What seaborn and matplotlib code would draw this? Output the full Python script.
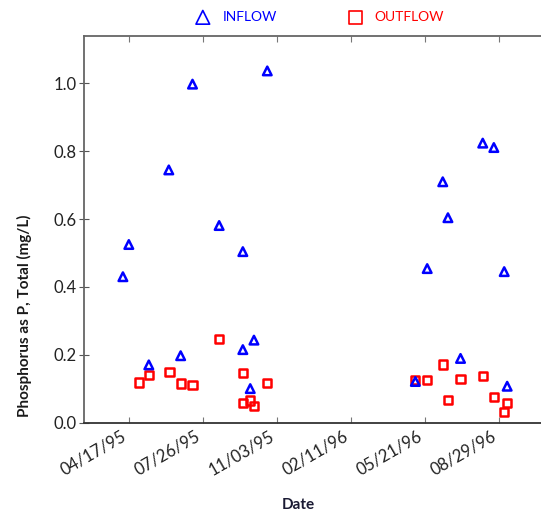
import matplotlib
matplotlib.use("Agg")
import matplotlib.pyplot as plt
import seaborn as sns
import pandas as pd

# ---- data ----
inflow_dates = ["1995-04-09", "1995-04-17", "1995-05-14", "1995-06-10", "1995-06-26",
                "1995-07-12", "1995-08-17", "1995-09-18", "1995-09-18", "1995-09-28",
                "1995-10-03", "1995-10-21",
                "1996-05-08", "1996-05-24", "1996-06-14", "1996-06-21", "1996-07-08",
                "1996-08-07", "1996-08-22", "1996-09-05", "1996-09-09"]
inflow_values = [0.43, 0.525, 0.17, 0.745, 0.197,
                 0.998, 0.581, 0.504, 0.215, 0.100,
                 0.243, 1.037,
                 0.121, 0.454, 0.710, 0.604, 0.189,
                 0.824, 0.811, 0.445, 0.107]

outflow_dates = ["1995-05-01", "1995-05-14", "1995-06-11", "1995-06-26", "1995-07-12",
                 "1995-08-17", "1995-09-18", "1995-09-18", "1995-09-28", "1995-10-03",
                 "1995-10-21",
                 "1996-05-08", "1996-05-24", "1996-06-14", "1996-06-21", "1996-07-08",
                 "1996-08-07", "1996-08-22", "1996-09-05", "1996-09-09"]
outflow_values = [0.118, 0.141, 0.149, 0.115, 0.110,
                  0.246, 0.146, 0.058, 0.065, 0.049,
                  0.116,
                  0.126, 0.126, 0.171, 0.067, 0.129,
                  0.138, 0.074, 0.030, 0.057]

tick_dates = ["1995-04-17", "1995-07-26", "1995-11-03", "1996-02-11", "1996-05-21", "1996-08-29"]
tick_labels = ["04/17/95", "07/26/95", "11/03/95", "02/11/96", "05/21/96", "08/29/96"]
y_ticks = [0.0, 0.2, 0.4, 0.6, 0.8, 1.0]
series_names = ["INFLOW", "OUTFLOW"]

# ---- style ----
sns.set_style("white")
plt.rcParams["font.family"] = ["Lato", "DejaVu Sans"]

BLUE = "#0000ff"
RED = "#ff0000"

fig = plt.figure(figsize=(5.41, 5.14), dpi=100)
ax = fig.add_axes([0.156, 0.178, 0.88, 0.752])

df_in = pd.DataFrame({"date": pd.to_datetime(inflow_dates), "value": inflow_values})
df_out = pd.DataFrame({"date": pd.to_datetime(outflow_dates), "value": outflow_values})

sns.scatterplot(data=df_out, x="date", y="value", marker="s", s=34,
                color=RED, linewidth=1.8, ax=ax, label=series_names[1], zorder=3)
sns.scatterplot(data=df_in, x="date", y="value", marker="^", s=38,
                color=BLUE, linewidth=1.8, ax=ax, label=series_names[0], zorder=4)
for coll, col in zip(ax.collections, [RED, BLUE]):
    coll.set_facecolor("none")
    coll.set_edgecolor(col)

# axes limits
ax.set_xlim(pd.Timestamp("1995-02-16"), pd.Timestamp("1996-11-20"))
ax.set_ylim(0, 1.14)

ax.set_xticks(pd.to_datetime(tick_dates))
ax.set_xticklabels(tick_labels, rotation=30, ha="right", rotation_mode="default")
ax.set_yticks(y_ticks)
ax.set_yticklabels([f"{v:.1f}" for v in y_ticks])

ax.tick_params(axis="x", direction="in", top=True, bottom=True, length=4,
               color="#777777", labelsize=12, labelcolor="#222222", pad=4)
ax.tick_params(axis="y", direction="inout", left=True, length=7,
               color="#555555", labelsize=12, labelcolor="#222222", pad=2)

for side in ["left", "top", "right", "bottom"]:
    ax.spines[side].set_color("#666666")
    ax.spines[side].set_linewidth(1.3)
ax.spines["bottom"].set_color("#333333")

ax.set_xlabel("Date", fontsize=11, fontweight="bold", color="#1a1a33")
ax.set_ylabel("Phosphorus as P, Total (mg/L)", fontsize=11, fontweight="bold", color="#1a1a1a")
ax.xaxis.set_label_coords(0.45, -0.195)
ax.yaxis.set_label_coords(-0.111, 0.277)

handles, labels = ax.get_legend_handles_labels()
order = [labels.index(series_names[0]), labels.index(series_names[1])]
leg = ax.legend([handles[i] for i in order], [labels[i] for i in order],
                loc="center", bbox_to_anchor=(0.585, 0.967), bbox_transform=fig.transFigure,
                ncol=2, frameon=False, markerscale=1.6, fontsize=10,
                handletextpad=0.4, columnspacing=4.65)
for txt, col in zip(leg.get_texts(), [BLUE, RED]):
    txt.set_color(col)
for h, col in zip(leg.legend_handles, [BLUE, RED]):
    h.set_facecolor("none")
    h.set_edgecolor(col)
    h.set_linewidth(1.2)

fig.savefig("out.png", dpi=100)
